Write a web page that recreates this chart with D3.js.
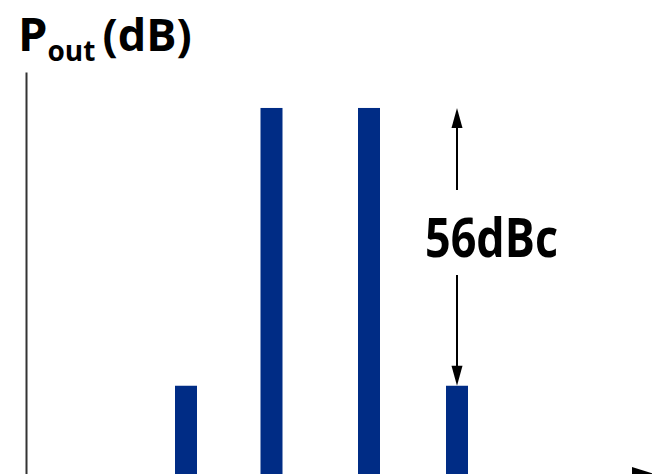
<!DOCTYPE html>
<html><head><meta charset="utf-8">
<script src="https://cdn.jsdelivr.net/npm/d3@7"></script>
<style>body{margin:0;background:#fff} svg{display:block}</style>
</head><body><svg id="c" width="652" height="474"></svg>
<script>
// data
const tones = ["2f1-f2", "f1", "f2", "2f2-f1"];
const freqs = [1.6, 2.455, 3.43, 4.31];     // relative frequency positions
const levels = [-56, 0, 0, -56];            // dBc
const titleMain = "P";
const titleSub = "out";
const titleUnit = "(dB)";
const annotation = "56dBc";
const annotatedTone = 3;

const svg = d3.select("#c");
const x = d3.scaleLinear().domain([0, 6]).range([26, 626]);
const y = d3.scaleLinear().domain([-75, 7.25]).range([480, 72]);
const barW = 22;
const navy = "#002c85";
const font = "'Open Sans', 'DejaVu Sans', sans-serif";

// bars
svg.selectAll("rect.bar").data(tones).join("rect")
  .attr("class", "bar")
  .attr("x", (d, i) => x(freqs[i]) - barW / 2)
  .attr("y", (d, i) => y(levels[i]))
  .attr("width", barW)
  .attr("height", (d, i) => y(-75) - y(levels[i]))
  .attr("fill", navy);

// y axis
const gy = svg.append("g").attr("transform", `translate(${x(0)},0)`)
  .call(d3.axisLeft(y).tickValues([]).tickSizeOuter(0));
gy.select(".domain").attr("stroke", "#333").attr("stroke-width", 2);

// x axis
const xa = d3.scaleLinear().domain([0, 6]).range([26, 640]);
const xAxisY = y(-75) + 2;
const gx = svg.append("g").attr("transform", `translate(0,${xAxisY})`)
  .call(d3.axisBottom(xa).tickValues([]).tickSizeOuter(0));
gx.select(".domain").attr("stroke", "#000").attr("stroke-width", 2);
svg.append("path")
  .attr("d", `M${xa(6) - 8},${xAxisY - 15} L${xa(6) + 40},${xAxisY} L${xa(6) - 8},${xAxisY + 15} Z`)
  .attr("fill", "#000");

// annotation arrow
const ax = x(freqs[annotatedTone]);
const yTop = y(levels[1]), yBot = y(levels[annotatedTone]);
const headL = 20, headW = 5.5;
svg.append("line").attr("x1", ax).attr("x2", ax).attr("y1", yTop + 5).attr("y2", 190)
  .attr("stroke", "#000").attr("stroke-width", 2);
svg.append("line").attr("x1", ax).attr("x2", ax).attr("y1", 275).attr("y2", yBot - 5)
  .attr("stroke", "#000").attr("stroke-width", 2);
svg.append("path")
  .attr("d", `M${ax},${yTop} L${ax + headW},${yTop + headL} L${ax - headW},${yTop + headL} Z`)
  .attr("fill", "#000");
svg.append("path")
  .attr("d", `M${ax},${yBot} L${ax + headW},${yBot - headL} L${ax - headW},${yBot - headL} Z`)
  .attr("fill", "#000");

svg.append("text")
  .attr("x", 425).attr("y", 257)
  .attr("font-family", font).attr("font-weight", 700)
  .attr("font-size", 53)
  .attr("textLength", 133).attr("lengthAdjust", "spacingAndGlyphs")
  .attr("fill", "#000")
  .text(annotation);

// title
const t = svg.append("text")
  .attr("x", 18).attr("y", 51)
  .attr("font-family", font).attr("font-weight", 700)
  .attr("fill", "#000");
t.append("tspan").attr("font-size", 47).text(titleMain);
t.append("tspan").attr("font-size", 28).attr("dy", 10).text(titleSub);
t.append("tspan").attr("font-size", 45).attr("dy", -10).attr("dx", 7).text(titleUnit);
</script>
</body></html>
